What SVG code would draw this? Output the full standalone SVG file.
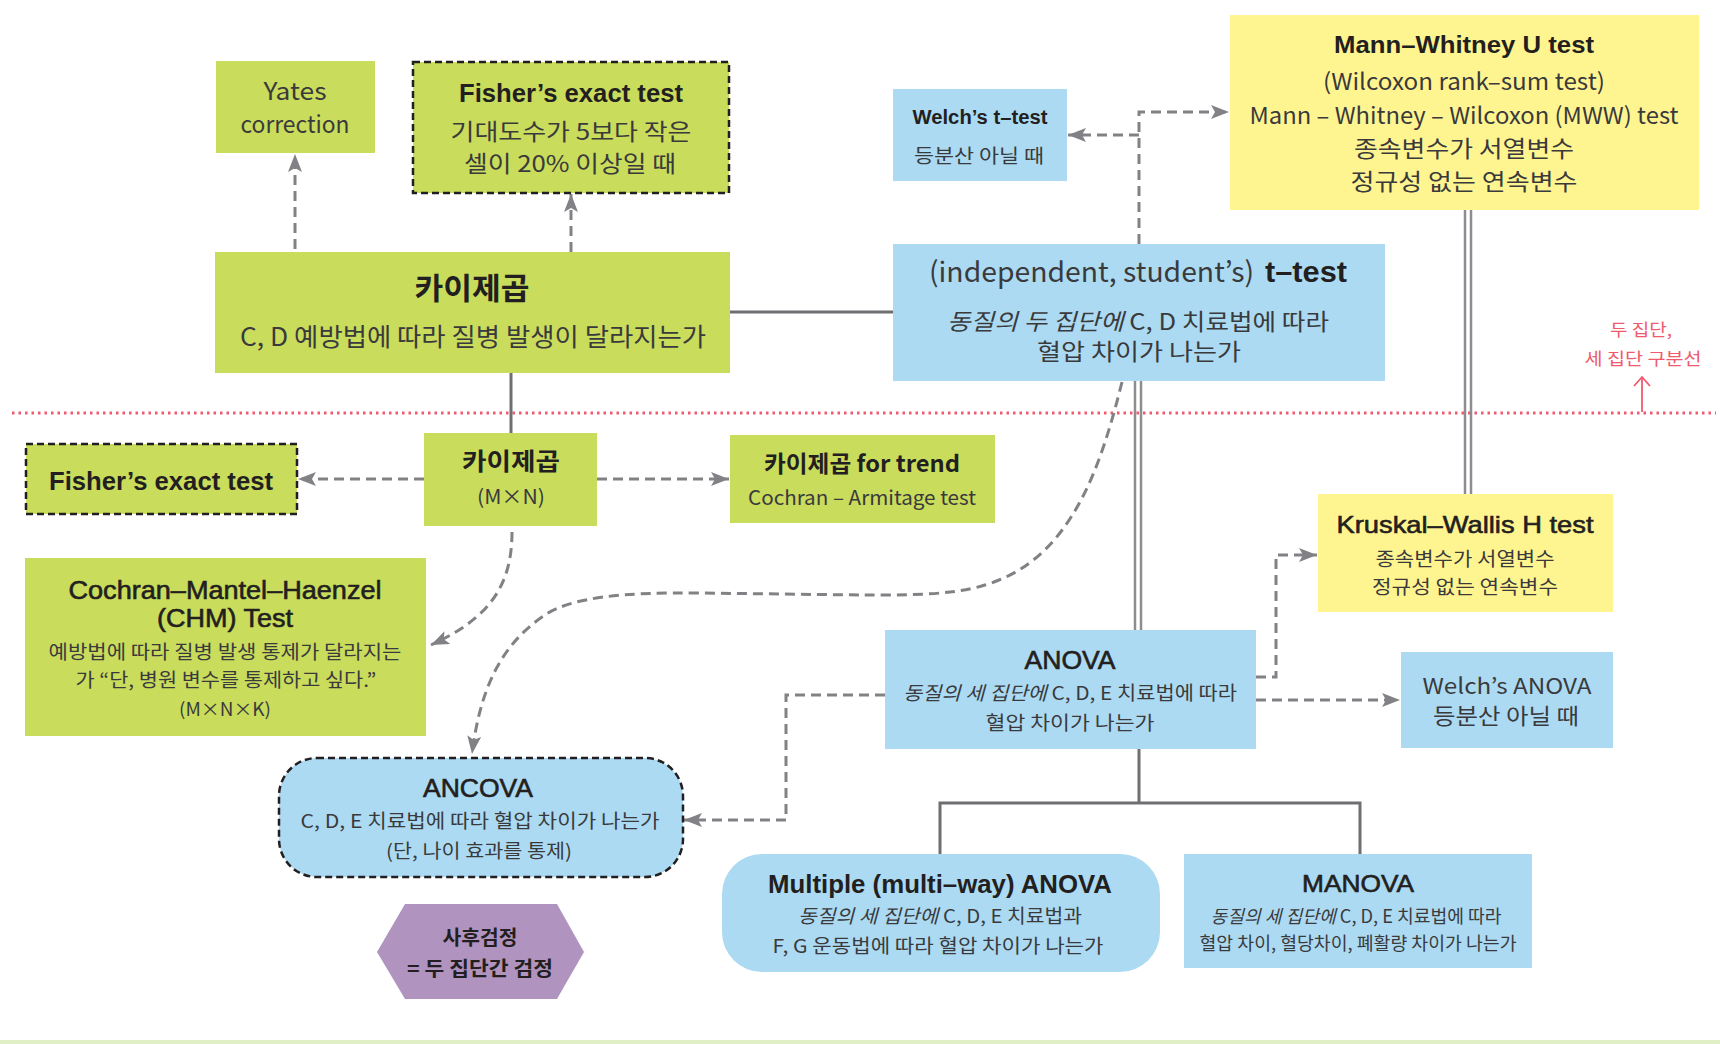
<svg xmlns="http://www.w3.org/2000/svg" width="1720" height="1044" viewBox="0 0 1720 1044">
<defs>
<style>
.g{fill:#c9dc5c}
.b{fill:#acdaf3}
.y{fill:#fff590}
.p{fill:#b094bf}
.dbox{stroke:#231f20;stroke-width:2.5;stroke-dasharray:7 4}
.tb{font-family:"Liberation Sans","Noto Sans CJK KR",sans-serif;font-weight:700;fill:#231f20;text-anchor:middle}
.tbs{font-family:"Liberation Sans","Noto Sans CJK KR",sans-serif;font-weight:700;fill:#231f20;text-anchor:start}
.tm{font-family:"Liberation Sans","Noto Sans CJK KR",sans-serif;font-weight:400;fill:#231f20;stroke:#231f20;stroke-width:0.6;text-anchor:middle}
.kb{font-family:"Noto Sans CJK KR","Liberation Sans",sans-serif;font-weight:700;fill:#231f20;text-anchor:middle}
.r{font-family:"Noto Sans CJK KR","Liberation Sans",sans-serif;font-weight:400;fill:#3a3a3c;text-anchor:middle}
.re{font-family:"Noto Sans CJK KR","Liberation Sans",sans-serif;font-weight:400;fill:#3a3a3c;text-anchor:end}
.it{font-style:italic}
.solid{fill:none;stroke:#6f6f73;stroke-width:3}
.dbl{fill:none;stroke:#8d8d91;stroke-width:2.5}
.dash{fill:none;stroke:#828286;stroke-width:3;stroke-dasharray:10 6}
.red{fill:#ef5a6e;font-family:"Noto Sans CJK KR",sans-serif;font-weight:400;text-anchor:middle}
</style>
<marker id="ah" markerUnits="userSpaceOnUse" markerWidth="20" markerHeight="16" refX="18" refY="7" orient="auto">
<path d="M0,0 L18,7 L0,14 L4,7 z" fill="#828286"/>
</marker>
</defs>
<rect x="0" y="0" width="1720" height="1044" fill="#ffffff"/>
<rect x="0" y="1040" width="1720" height="4" fill="#e0efc6"/>

<!-- divider -->
<g id="divider">
<line x1="12" y1="413" x2="1716" y2="413" stroke="#ef5a6e" stroke-width="2.8" stroke-dasharray="2.5 4"/>
<line x1="1642" y1="412" x2="1642" y2="377" stroke="#ef5a6e" stroke-width="1.8"/>
<polyline points="1634,386 1642,377 1650,386" fill="none" stroke="#ef5a6e" stroke-width="1.8"/>
<text class="red" x="1641" y="336" font-size="17" textLength="62" lengthAdjust="spacingAndGlyphs">두 집단,</text>
<text class="red" x="1643" y="365" font-size="17" textLength="117" lengthAdjust="spacingAndGlyphs">세 집단 구분선</text>
</g>

<!-- connectors -->
<g id="connectors">
<line class="solid" x1="730" y1="312" x2="893" y2="312"/>
<line class="solid" x1="511" y1="373" x2="511" y2="434"/>
<line class="dash" x1="295" y1="249" x2="295" y2="154" marker-end="url(#ah)"/>
<line class="dash" x1="571" y1="252" x2="571" y2="194" marker-end="url(#ah)"/>
<line class="dash" x1="424" y1="479" x2="298" y2="479" marker-end="url(#ah)"/>
<line class="dash" x1="597" y1="479" x2="729" y2="479" marker-end="url(#ah)"/>
<path class="dash" d="M512,532 C512,585 490,618 431,645" marker-end="url(#ah)"/>
<path class="dash" d="M1139,244 V112 H1229" marker-end="url(#ah)"/>
<path class="dash" d="M1139,135 H1068" marker-end="url(#ah)"/>
<line class="dbl" x1="1465" y1="210" x2="1465" y2="494"/>
<line class="dbl" x1="1471" y1="210" x2="1471" y2="494"/>
<line class="dbl" x1="1135" y1="381" x2="1135" y2="630"/>
<line class="dbl" x1="1141" y1="381" x2="1141" y2="630"/>
<path class="dash" d="M1122,382 C1100,470 1070,560 985,585 C950,596 900,595 860,595 L700,593 C620,592 570,598 545,615 C500,645 480,690 472,754" marker-end="url(#ah)"/>
<path class="dash" d="M885,695 H786 V820 H684" marker-end="url(#ah)"/>
<path class="dash" d="M1256,677 H1276 V555 H1317" marker-end="url(#ah)"/>
<path class="dash" d="M1256,700 H1400" marker-end="url(#ah)"/>
<line class="solid" x1="1139" y1="749" x2="1139" y2="803"/>
<path class="solid" d="M940,854 V803 H1360 V854"/>
</g>

<g id="yates">
<rect class="g" x="216" y="61" width="159" height="92"/>
<text class="r" x="295" y="100" font-size="24" textLength="63" lengthAdjust="spacingAndGlyphs">Yates</text>
<text class="r" x="295" y="133" font-size="24" textLength="109" lengthAdjust="spacingAndGlyphs">correction</text>
</g>

<g id="fisher-top">
<rect class="g dbox" x="413" y="62" width="316" height="131"/>
<text class="tb" x="571" y="102" font-size="25" textLength="224" lengthAdjust="spacingAndGlyphs">Fisher’s exact test</text>
<text class="r" x="571" y="140" font-size="23" textLength="241" lengthAdjust="spacingAndGlyphs">기대도수가 5보다 작은</text>
<text class="r" x="570" y="172" font-size="23" textLength="212" lengthAdjust="spacingAndGlyphs">셀이 20% 이상일 때</text>
</g>

<g id="chi-main">
<rect class="g" x="215" y="252" width="515" height="121"/>
<text class="kb" x="472" y="299" font-size="30" textLength="115" lengthAdjust="spacingAndGlyphs">카이제곱</text>
<text class="r" x="473" y="346" font-size="25" textLength="466" lengthAdjust="spacingAndGlyphs">C, D 예방법에 따라 질병 발생이 달라지는가</text>
</g>

<g id="welch-t">
<rect class="b" x="893" y="89" width="174" height="92"/>
<text class="tb" x="980" y="124" font-size="20" textLength="135" lengthAdjust="spacingAndGlyphs">Welch’s t–test</text>
<text class="r" x="979" y="163" font-size="19" textLength="130" lengthAdjust="spacingAndGlyphs">등분산 아닐 때</text>
</g>

<g id="mann-whitney">
<rect class="y" x="1230" y="15" width="469" height="195"/>
<text class="tb" x="1464" y="53" font-size="24" textLength="260" lengthAdjust="spacingAndGlyphs">Mann–Whitney U test</text>
<text class="r" x="1464" y="90" font-size="23" textLength="282" lengthAdjust="spacingAndGlyphs">(Wilcoxon rank–sum test)</text>
<text class="r" x="1464" y="124" font-size="23" textLength="429" lengthAdjust="spacingAndGlyphs">Mann – Whitney – Wilcoxon (MWW) test</text>
<text class="r" x="1464" y="157" font-size="23" textLength="220" lengthAdjust="spacingAndGlyphs">종속변수가 서열변수</text>
<text class="r" x="1464" y="190" font-size="23" textLength="227" lengthAdjust="spacingAndGlyphs">정규성 없는 연속변수</text>
</g>

<g id="t-test">
<rect class="b" x="893" y="244" width="492" height="137"/>
<text class="re" x="1254" y="282" font-size="28" textLength="325" lengthAdjust="spacingAndGlyphs">(independent, student’s)</text>
<text class="tbs" x="1265" y="282" font-size="29" textLength="82" lengthAdjust="spacingAndGlyphs">t–test</text>
<text class="r" x="1138" y="330" font-size="23" textLength="382" lengthAdjust="spacingAndGlyphs"><tspan class="it">동질의 두 집단에</tspan> C, D 치료법에 따라</text>
<text class="r" x="1139" y="360" font-size="23" textLength="204" lengthAdjust="spacingAndGlyphs">혈압 차이가 나는가</text>
</g>

<g id="fisher-left">
<rect class="g dbox" x="26" y="444" width="271" height="70"/>
<text class="tb" x="161" y="490" font-size="26" textLength="224" lengthAdjust="spacingAndGlyphs">Fisher’s exact test</text>
</g>

<g id="chi-mn">
<rect class="g" x="424" y="433" width="173" height="93"/>
<text class="kb" x="511" y="470" font-size="24" textLength="98" lengthAdjust="spacingAndGlyphs">카이제곱</text>
<text class="r" x="511" y="504" font-size="20" textLength="68" lengthAdjust="spacingAndGlyphs">(M×N)</text>
</g>

<g id="chi-trend">
<rect class="g" x="730" y="435" width="265" height="88"/>
<text class="kb" x="862" y="472" font-size="23" textLength="196" lengthAdjust="spacingAndGlyphs">카이제곱 for trend</text>
<text class="r" x="862" y="505" font-size="20" textLength="228" lengthAdjust="spacingAndGlyphs">Cochran – Armitage test</text>
</g>

<g id="cmh">
<rect class="g" x="25" y="558" width="401" height="178"/>
<text class="tm" x="225" y="599" font-size="25" textLength="313" lengthAdjust="spacingAndGlyphs">Cochran–Mantel–Haenzel</text>
<text class="tm" x="225" y="627" font-size="25" textLength="136" lengthAdjust="spacingAndGlyphs">(CHM) Test</text>
<text class="r" x="225" y="659" font-size="19" textLength="353" lengthAdjust="spacingAndGlyphs">예방법에 따라 질병 발생 통제가 달라지는</text>
<text class="r" x="226" y="687" font-size="19" textLength="301" lengthAdjust="spacingAndGlyphs">가 “단, 병원 변수를 통제하고 싶다.”</text>
<text class="r" x="225" y="716" font-size="18" textLength="92" lengthAdjust="spacingAndGlyphs">(M×N×K)</text>
</g>

<g id="kruskal">
<rect class="y" x="1318" y="494" width="295" height="118"/>
<text class="tm" x="1465" y="533" font-size="24" textLength="257" lengthAdjust="spacingAndGlyphs">Kruskal–Wallis H test</text>
<text class="r" x="1465" y="566" font-size="19" textLength="179" lengthAdjust="spacingAndGlyphs">종속변수가 서열변수</text>
<text class="r" x="1465" y="594" font-size="19" textLength="186" lengthAdjust="spacingAndGlyphs">정규성 없는 연속변수</text>
</g>

<g id="anova">
<rect class="b" x="885" y="630" width="371" height="119"/>
<text class="tm" x="1070" y="669" font-size="25" textLength="91" lengthAdjust="spacingAndGlyphs">ANOVA</text>
<text class="r" x="1070" y="700" font-size="19" textLength="334" lengthAdjust="spacingAndGlyphs"><tspan class="it">동질의 세 집단에</tspan> C, D, E 치료법에 따라</text>
<text class="r" x="1070" y="730" font-size="19" textLength="169" lengthAdjust="spacingAndGlyphs">혈압 차이가 나는가</text>
</g>

<g id="welch-anova">
<rect class="b" x="1401" y="652" width="212" height="96"/>
<text class="r" x="1507" y="694" font-size="22" textLength="169" lengthAdjust="spacingAndGlyphs">Welch’s ANOVA</text>
<text class="r" x="1506" y="724" font-size="22" textLength="146" lengthAdjust="spacingAndGlyphs">등분산 아닐 때</text>
</g>

<g id="ancova">
<rect class="b dbox" x="279" y="758" width="404" height="119" rx="38" ry="38"/>
<text class="tm" x="478" y="797" font-size="25" textLength="110" lengthAdjust="spacingAndGlyphs">ANCOVA</text>
<text class="r" x="480" y="828" font-size="19" textLength="359" lengthAdjust="spacingAndGlyphs">C, D, E 치료법에 따라 혈압 차이가 나는가</text>
<text class="r" x="479" y="858" font-size="19" textLength="186" lengthAdjust="spacingAndGlyphs">(단, 나이 효과를 통제)</text>
</g>

<g id="posthoc">
<polygon class="p" points="405,904 557,904 584,952 557,999 405,999 377,952"/>
<text class="kb" x="480" y="945" font-size="20" textLength="75" lengthAdjust="spacingAndGlyphs">사후검정</text>
<text class="kb" x="480" y="976" font-size="20" textLength="146" lengthAdjust="spacingAndGlyphs">= 두 집단간 검정</text>
</g>

<g id="multiway">
<rect class="b" x="722" y="854" width="438" height="118" rx="40" ry="40"/>
<text class="tb" x="940" y="893" font-size="25" textLength="344" lengthAdjust="spacingAndGlyphs">Multiple (multi–way) ANOVA</text>
<text class="r" x="940" y="923" font-size="19" textLength="284" lengthAdjust="spacingAndGlyphs"><tspan class="it">동질의 세 집단에</tspan> C, D, E 치료법과</text>
<text class="r" x="938" y="953" font-size="19" textLength="331" lengthAdjust="spacingAndGlyphs">F, G 운동법에 따라 혈압 차이가 나는가</text>
</g>

<g id="manova">
<rect class="b" x="1184" y="854" width="348" height="114"/>
<text class="tm" x="1358" y="892" font-size="24" textLength="112" lengthAdjust="spacingAndGlyphs">MANOVA</text>
<text class="r" x="1356" y="923" font-size="18" textLength="291" lengthAdjust="spacingAndGlyphs"><tspan class="it">동질의 세 집단에</tspan> C, D, E 치료법에 따라</text>
<text class="r" x="1358" y="950" font-size="18" textLength="317" lengthAdjust="spacingAndGlyphs">혈압 차이, 혈당차이, 폐활량 차이가 나는가</text>
</g>
</svg>
